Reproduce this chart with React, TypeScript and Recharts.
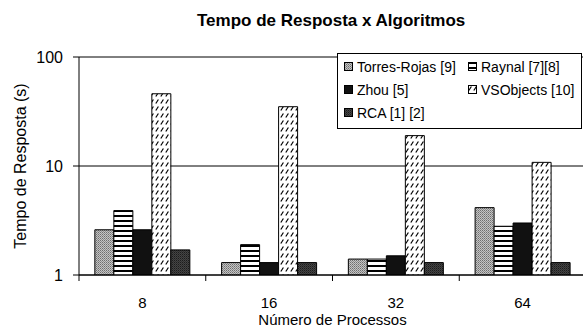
import { BarChart, Bar, XAxis, YAxis, CartesianGrid, Legend } from 'recharts';

// Values (seconds)
const categories = ['8', '16', '32', '64'];
const torresRojas = [2.6, 1.3, 1.4, 4.15];
const raynal = [3.9, 1.9, 1.4, 2.8];
const zhou = [2.6, 1.3, 1.5, 3.0];
const vsObjects = [46, 35, 19, 10.8];
const rca = [1.7, 1.3, 1.3, 1.3];
const yTicks = [1, 10, 100];

const FONT = "'Liberation Sans', Arial, sans-serif";
const TICK_GAP = 22;

const SERIES = [
  { key: 'torres', name: 'Torres-Rojas [9]', fill: 'url(#pat-torres)' },
  { key: 'raynal', name: 'Raynal [7][8]', fill: 'url(#pat-raynal)' },
  { key: 'zhou', name: 'Zhou [5]', fill: '#111111' },
  { key: 'vso', name: 'VSObjects [10]', fill: 'url(#pat-vso)' },
  { key: 'rca', name: 'RCA [1] [2]', fill: 'url(#pat-rca)' },
];

const data = categories.map((procs, i) => ({
  procs,
  torres: torresRojas[i],
  raynal: raynal[i],
  zhou: zhou[i],
  vso: vsObjects[i],
  rca: rca[i],
}));

function Patterns() {
  return (
    <defs>
      <pattern id="pat-torres" patternUnits="userSpaceOnUse" width={2} height={2}>
        <rect width={2} height={2} fill="#c4c4c4" />
        <rect x={0} y={0} width={1} height={1} fill="#6e6e6e" />
        <rect x={1} y={1} width={1} height={1} fill="#8e8e8e" />
      </pattern>
      <pattern id="pat-raynal" patternUnits="userSpaceOnUse" width={4} height={5}>
        <rect width={4} height={5} fill="#fff" />
        <rect y={0} width={4} height={2} fill="#000" />
      </pattern>
      <pattern id="pat-vso" patternUnits="userSpaceOnUse" width={5} height={7}>
        <rect width={5} height={7} fill="#fff" />
        <line x1={0.8} y1={5.5} x2={3.4} y2={1.5} stroke="#000" strokeWidth={1.2} />
      </pattern>
      <pattern id="pat-rca" patternUnits="userSpaceOnUse" width={2} height={2}>
        <rect width={2} height={2} fill="#444" />
        <rect x={0} y={0} width={1} height={1} fill="#1c1c1c" />
        <rect x={1} y={1} width={1} height={1} fill="#303030" />
      </pattern>
    </defs>
  );
}

function ProcTick(props: any) {
  const { x, y, payload } = props;
  const half = payload.offset ?? 0;
  const axisY = y - TICK_GAP;
  return (
    <g>
      <line x1={x - half} x2={x - half} y1={axisY} y2={axisY + 6} stroke="#000" />
      <text x={x} y={y} dy="0.71em" textAnchor="middle" fontSize={15} fill="#000" fontFamily={FONT}>
        {payload.value}
      </text>
    </g>
  );
}

// legend keeps the series order (recharts would sort the payload by name)
function LegendBox() {
  return (
    <div
      style={{
        boxSizing: 'border-box',
        width: 245,
        height: 76,
        border: '1.5px solid #000',
        background: '#fff',
        padding: '1px 0 0 6px',
        display: 'grid',
        gridTemplateColumns: '124px 1fr',
        gridAutoRows: 23,
        fontFamily: FONT,
        fontSize: 14,
        color: '#000',
      }}
    >
      {SERIES.map((s) => (
        <div key={s.key} style={{ display: 'flex', alignItems: 'center', whiteSpace: 'nowrap' }}>
          <svg width={9} height={9} style={{ marginRight: 4 }}>
            <rect x={0.5} y={0.5} width={8} height={8} fill={s.fill} stroke="#000" />
          </svg>
          {s.name}
        </div>
      ))}
    </div>
  );
}

export default function App() {
  return (
    <div style={{ width: 583, height: 336, overflow: 'hidden', position: 'relative', background: '#fff' }}>
      <style>{'body{margin:0}'}</style>
      <div
        style={{
          position: 'absolute',
          top: 12,
          left: 197,
          width: 200,
          textAlign: 'center',
          whiteSpace: 'nowrap',
          fontFamily: FONT,
          fontWeight: 'bold',
          fontSize: 17,
          lineHeight: '17px',
          zIndex: 2,
        }}
      >
        Tempo de Resposta x Algoritmos
      </div>
      <BarChart
        width={586}
        height={336}
        data={data}
        margin={{ top: 57, right: 0, bottom: 0, left: 0 }}
        barCategoryGap="12.5%"
        barGap={0}
      >
        <Patterns />
        <CartesianGrid vertical={false} stroke="#000" />
        <XAxis
          dataKey="procs"
          height={61}
          axisLine={{ stroke: '#000' }}
          tickLine={false}
          tickSize={6}
          tickMargin={TICK_GAP - 6}
          tick={<ProcTick />}
          interval={0}
          label={{
            value: 'Número de Processos',
            position: 'insideBottom',
            offset: 11,
            fontSize: 15,
            fill: '#000',
            fontFamily: FONT,
          }}
        />
        <YAxis
          type="number"
          scale="log"
          domain={[1, 100]}
          ticks={yTicks}
          allowDataOverflow
          interval={0}
          width={79}
          axisLine={{ stroke: '#000' }}
          tickLine={{ stroke: '#000' }}
          tickSize={6}
          tickMargin={10}
          tick={{ fontSize: 16, fill: '#000', fontFamily: FONT }}
          label={{
            value: 'Tempo de Resposta (s)',
            angle: -90,
            position: 'insideLeft',
            offset: 20,
            fontSize: 16,
            fill: '#000',
            fontFamily: FONT,
            style: { textAnchor: 'middle' },
          }}
        />
        <Legend
          layout="horizontal"
          verticalAlign="middle"
          align="center"
          wrapperStyle={{ position: 'absolute', left: 337, top: 53, width: 245, height: 76 }}
          content={<LegendBox />}
        />
        {SERIES.map((s) => (
          <Bar
            key={s.key}
            dataKey={s.key}
            name={s.name}
            fill={s.fill}
            stroke="#000"
            strokeWidth={1}
            isAnimationActive={false}
          />
        ))}
      </BarChart>
    </div>
  );
}
